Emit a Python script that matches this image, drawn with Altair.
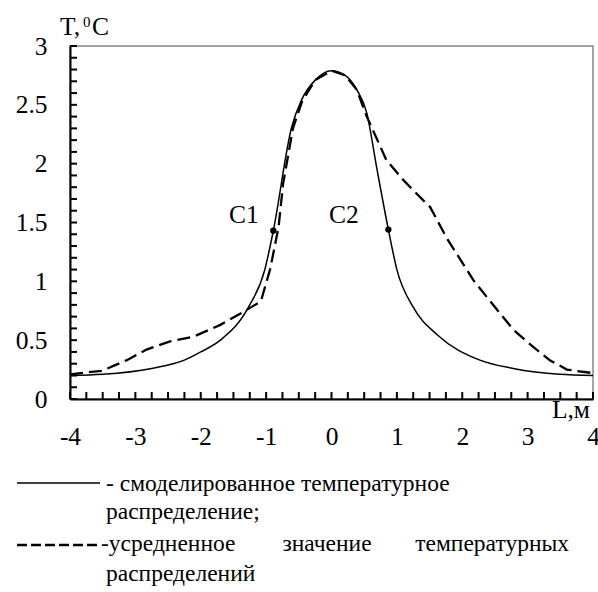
import altair as alt
import pandas as pd

# ---- data ----
solid_x = [-4, -3.5, -2.75, -2.25, -2.0, -1.7, -1.27, -1.02, -0.89, -0.61, -0.46, -0.25,
           0.0, 0.21, 0.385, 0.54, 0.69, 0.87, 1.0, 1.25, 1.63, 2.27, 2.78, 3.49, 4]
solid_T = [0.2, 0.21, 0.26, 0.33, 0.40, 0.50, 0.78, 1.10, 1.43, 2.31, 2.54, 2.71,
           2.79, 2.75, 2.63, 2.43, 1.97, 1.44, 1.10, 0.78, 0.54, 0.33, 0.26, 0.21, 0.2]

dash_x = [-4, -3.51, -3.13, -2.83, -2.47, -2.11, -1.70, -1.35, -1.08, -0.94, -0.81, -0.74,
          -0.59, -0.45, -0.25, 0.0, 0.21, 0.385, 0.54, 0.84, 1.1, 1.4, 1.51, 1.76, 2.17,
          2.53, 2.78, 3.09, 3.34, 3.6, 4]
dash_T = [0.21, 0.24, 0.33, 0.42, 0.49, 0.53, 0.63, 0.74, 0.83, 1.10, 1.46, 1.83,
          2.30, 2.53, 2.71, 2.79, 2.75, 2.63, 2.40, 2.03, 1.86, 1.69, 1.63, 1.37, 1.01,
          0.76, 0.59, 0.44, 0.33, 0.25, 0.22]

point_names = ["C1", "C2"]
point_x = [-0.89, 0.87]
point_T = [1.43, 1.44]
label_x = [-1.34, 0.19]
label_T = [1.495, 1.50]

x_tick_labels = [-4, -3, -2, -1, 0, 1, 2, 3, 4]
y_tick_labels = [0, 0.5, 1, 1.5, 2, 2.5, 3]
x_minor = [-4 + 0.25 * i for i in range(33)]
y_minor = [round(0.1 * i, 1) for i in range(31)]

legend_line1 = ["- смоделированное температурное"]
legend_line2 = ["распределение;"]
legend_line3_words = ["-усредненное", "значение", "температурных"]
legend_line4 = ["распределений"]

FONT = "Liberation Serif"
FS = 25.5
W, H = 523, 353

df_solid = pd.DataFrame({"L": solid_x, "T": solid_T})
df_dash = pd.DataFrame({"L": dash_x, "T": dash_T})
df_pts = pd.DataFrame({"name": point_names, "L": point_x, "T": point_T,
                       "lx": label_x, "lT": label_T})

xs = alt.Scale(domain=[-4, 4], nice=False, zero=False)
ys = alt.Scale(domain=[0, 3], nice=False, zero=False)

AX_X = alt.Axis(orient="bottom", values=x_tick_labels, ticks=False, grid=False,
                domainColor="black", domainWidth=2,
                labelFont=FONT, labelFontSize=FS, labelColor="black",
                labelPadding=25, labelExpr="'' + datum.value",
                labelFlush=False, labelOverlap=False)
AX_Y = alt.Axis(orient="left", values=y_tick_labels, ticks=False, grid=False,
                domainColor="black", domainWidth=2,
                labelFont=FONT, labelFontSize=FS, labelColor="black",
                labelPadding=23, labelExpr="'' + datum.value",
                labelFlush=False, labelOverlap=False)


def X(field):
    return alt.X(field, scale=xs, title=None, axis=AX_X)


def Y(field):
    return alt.Y(field, scale=ys, title=None, axis=AX_Y)


solid = alt.Chart(df_solid).mark_line(color="black", strokeWidth=1.5,
                                      interpolate="monotone").encode(
    x=X("L:Q"), y=Y("T:Q"))

dashed = alt.Chart(df_dash).mark_line(color="black", strokeWidth=2.3,
                                      strokeDash=[13, 6]).encode(
    x=X("L:Q"), y=Y("T:Q"))

# minor ticks pointing inward
x_ticks = alt.Chart(pd.DataFrame({"v": x_minor})).mark_rule(
    color="black", strokeWidth=2).encode(
    x=X("v:Q"), y=alt.value(H), y2=alt.value(H - 7))
y_ticks = alt.Chart(pd.DataFrame({"v": y_minor})).mark_rule(
    color="black", strokeWidth=2).encode(
    y=Y("v:Q"), x=alt.value(0), x2=alt.value(7))

dots = alt.Chart(df_pts).mark_circle(color="black", size=40, opacity=1).encode(
    x=X("L:Q"), y=Y("T:Q"))

labels = alt.Chart(df_pts).mark_text(font=FONT, fontSize=FS, color="black",
                                     align="center", baseline="alphabetic").encode(
    x=X("lx:Q"), y=Y("lT:Q"), text="name:N")


def txt(s, x, y, size=FS, align="left"):
    return alt.Chart(pd.DataFrame({"t": [s]})).mark_text(
        font=FONT, fontSize=size, color="black", align=align,
        baseline="alphabetic").encode(x=alt.value(x), y=alt.value(y), text="t:N")


# axis titles
t_title = txt("T,", -10, -11)
t_sup = txt("0", 13, -19, size=15)
t_c = txt("C", 22, -11)
l_title = txt("L,м", W - 3, H + 19, align="right")

# legend
leg_solid = alt.Chart(pd.DataFrame({"a": [0]})).mark_rule(
    color="black", strokeWidth=1.5).encode(
    x=alt.value(-53), x2=alt.value(30), y=alt.value(437))
leg_dash = alt.Chart(pd.DataFrame({"a": [0]})).mark_rule(
    color="black", strokeWidth=2.6, strokeDash=[10, 4]).encode(
    x=alt.value(-53), x2=alt.value(30), y=alt.value(499))

LS = 23.5
leg1 = txt(legend_line1[0], 36, 445, size=LS)
leg2 = txt(legend_line2[0], 36, 473, size=LS)
leg3a = txt(legend_line3_words[0], 31, 505, size=LS)
leg3b = txt(legend_line3_words[1], 257, 505, size=LS, align="center")
leg3c = txt(legend_line3_words[2], 499, 505, size=LS, align="right")
leg4 = txt(legend_line4[0], 36, 535, size=LS)

chart = alt.layer(solid, dashed, x_ticks, y_ticks, dots, labels,
                  t_title, t_sup, t_c, l_title,
                  leg_solid, leg_dash, leg1, leg2, leg3a, leg3b, leg3c, leg4).properties(
    width=W, height=H,
    autosize=alt.AutoSizeParams(type="none"),
    padding={"left": 70, "top": 46, "right": 5, "bottom": 193},
    background="white",
).configure_view(stroke="#888888", strokeWidth=1.5)

chart.save("out.html", embed_options={"renderer": "svg", "actions": False})
